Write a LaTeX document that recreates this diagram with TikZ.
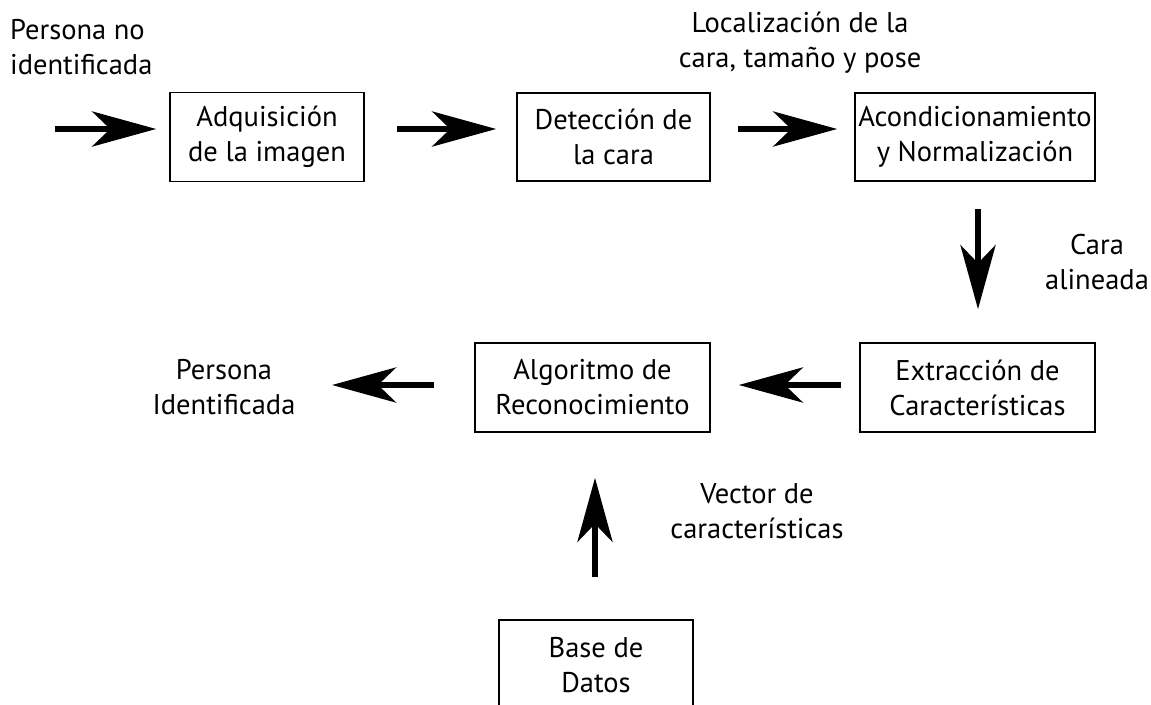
\documentclass[tikz,border=0pt]{standalone}
\usepackage{fontspec}
\setmainfont{PT Sans}
\usetikzlibrary{positioning, arrows.meta}

\begin{document}
\begin{tikzpicture}[x=1pt, y=-1pt,
    caja/.style={draw, line width=1.6pt, inner sep=0pt, align=center, font=\fontsize{28.5}{35}\selectfont},
    etiqueta/.style={inner sep=0pt, align=center, font=\fontsize{28.5}{35}\selectfont},
    flecha/.style={line width=6.5pt, -{Stealth[length=64pt, width=35pt, inset=18pt]}}]
            \useasboundingbox (0,0) rectangle (1151,704);
            \clip (0,0) rectangle (1151,704);
            \node[caja, minimum width=194pt, minimum height=89pt] (adq) at (267,137) {Adquisición\\de la imagen};
            \node[caja, minimum width=193pt, minimum height=88pt] (det) at (613.5,137) {Detección de\\la cara};
            \node[caja, minimum width=240pt, minimum height=88pt] (acond) at (975,137) {Acondicionamiento\\y Normalización};
            \node[caja, minimum width=235pt, minimum height=89pt] (ext) at (977.5,387.5) {Extracción de\\Características};
            \node[caja, minimum width=235pt, minimum height=89pt] (alg) at (592.5,387.5) {Algoritmo de\\Reconocimiento};
            \node[caja, minimum width=194pt, minimum height=90pt, anchor=north] (base) at (596,619) {Base de\\Datos};
            \node[etiqueta, align=left, anchor=west] (noid) at (10,47) {Persona no\\identificada};
            \node[etiqueta] (loc) at (800,43) {Localización de la\\cara, tamaño y pose};
            \node[etiqueta] (alin) at (1097,262) {Cara\\alineada};
            \node[etiqueta] (ident) at (224,387) {Persona\\Identificada};
            \node[etiqueta] (vec) at (757,511) {Vector de\\características};
            \coordinate (in) at (55,129);
            \coordinate (out) at (332,385);
            \draw[flecha, shorten >=13pt] (in) -- ([yshift=8pt]adq.west);
            \draw[flecha, shorten <=32pt, shorten >=20pt] ([yshift=8pt]adq.east) -- ([yshift=8pt]det.west);
            \draw[flecha, shorten <=27pt, shorten >=17pt] ([yshift=8pt]det.east) -- ([yshift=8pt]acond.west);
            \draw[flecha, shorten <=27pt, shorten >=33pt] ([xshift=3pt]acond.south) -- ([xshift=3pt]acond.south |- ext.north);
            \draw[flecha, shorten <=18pt, shorten >=28pt] ([yshift=2.5pt]ext.west) -- ([yshift=2.5pt]alg.east);
            \draw[flecha, shorten <=40pt] ([yshift=2.5pt]alg.west) -- (out);
            \draw[flecha, shorten <=42pt, shorten >=45pt] ([xshift=-1pt]base.north) -- ([xshift=-1pt]base.north |- alg.south);
        \end{tikzpicture}
\end{document}
